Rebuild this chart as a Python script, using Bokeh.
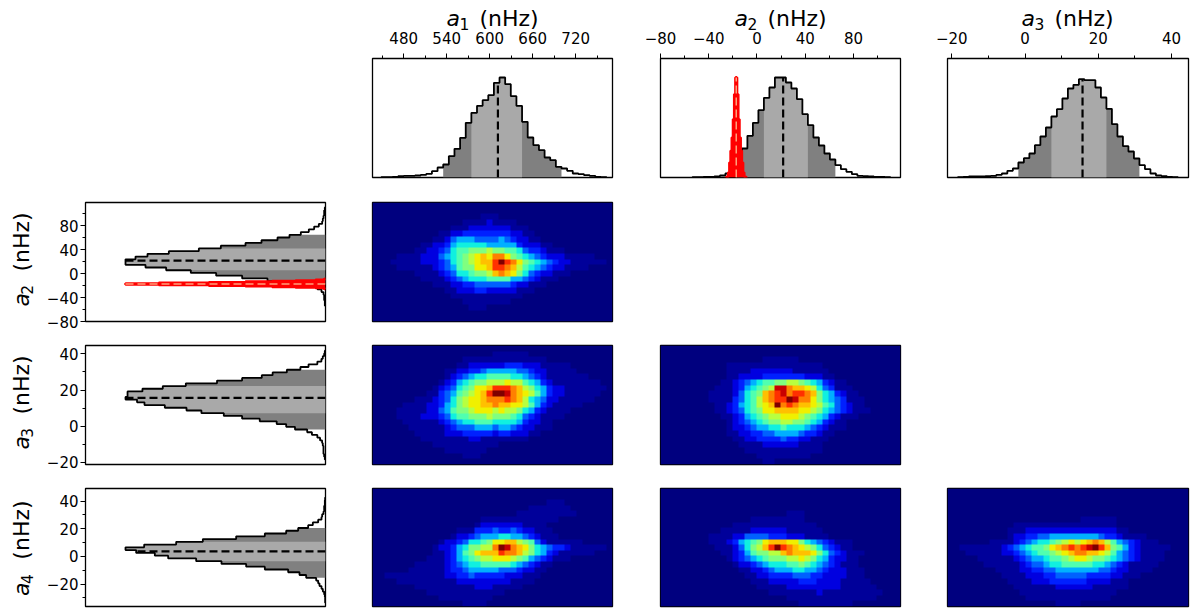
import numpy as np
from bokeh.core.properties import value
from bokeh.embed import file_html
from bokeh.resources import INLINE
from bokeh.layouts import column, row
from bokeh.models import (Spacer, Range1d, FixedTicker, LinearColorMapper)
from bokeh.plotting import figure

# ---------- ranges of the four parameters (nHz) ----------
a1_range = (436.5, 771.4)
a2_range = (-80.0, 119.0)
a3_range = (-21.18, 44.64)
a4_range = (-36.2, 49.1)

# ---------- tick labels ----------
a1_major = [480, 540, 600, 660, 720]
a1_minor = [450, 510, 570, 630, 690, 750]
a2_major = [-80, -40, 0, 40, 80]
a2_minor = [-60, -20, 20, 60, 100]
a3_major = [-20, 0, 20, 40]
a3_minor = [-10, 10, 30]
a4_major = [-20, 0, 20, 40]
a4_minor = [-30, -10, 10, 30]

# ---------- marginal histograms ----------
a1_start, a1_width = 448.7, 7.86
a1_counts = [1, 1, 2, 4, 5, 5, 6, 8, 11, 19, 30, 39, 64, 86, 119, 164, 194, 215, 232, 247,
             284, 300, 280, 244, 215, 167, 120, 97, 82, 60, 52, 32, 27, 20, 12, 10, 7, 5, 2, 1]
a1_quant = [535.0, 573.0, 643.5, 697.0]
a1_median = 611.5

a2_start, a2_width = -53.55, 4.56
a2_counts = [1, 1, 2, 2, 3, 6, 12, 22, 35, 87, 125, 164, 202, 239, 270, 300, 300, 285, 267, 235,
             190, 157, 120, 96, 72, 54, 37, 25, 17, 10, 5, 4, 3, 2, 2, 1]
a2_quant = [-17.0, 5.5, 43.0, 65.5]
a2_median = 21.7

a3_start, a3_width = -18.36, 1.503
a3_counts = [1, 2, 3, 3, 3, 4, 5, 8, 12, 20, 27, 45, 58, 72, 97, 123, 150, 183, 205, 237,
             267, 278, 295, 292, 292, 270, 240, 206, 160, 123, 94, 78, 57, 37, 25, 12, 6, 4, 2, 1]
a3_quant = [-1.9, 6.9, 22.4, 31.3]
a3_median = 15.7

a4_start, a4_width = -33.44, 2.0
a4_counts = [0.5, 0.5, 1, 2, 4, 6, 9, 11, 14, 29, 39, 56, 91, 119, 156, 194, 236, 256, 284,
             300, 272, 224, 184, 134, 91, 59, 41, 26, 19, 11, 6, 5, 3, 2, 2, 1, 1, 0.5]
a4_quant = [-15.1, -3.8, 10.8, 20.1]
a4_median = 3.6

# narrow comparison distribution of a2 (red)
red_start, red_width = -25.7, 1.0
red_counts = [1, 3, 15, 45, 80, 120, 175, 250, 300, 250, 175, 120, 80, 45, 15, 3, 1]
red_median = -17.2

# ---------- joint histograms (level 0-15 of each cell, top row first) ----------
h12 = [
"0000000000 0000000000 0000000000 0000000000",
"0000000000 0000000000 0000000000 0000000000",
"0000000000 0000000011 1000000000 0000000000",
"0000000000 0000011112 1111000000 0000000000",
"0000000000 0001112222 2221110000 0000000000",
"0000000000 0112233333 3332211000 0000000000",
"0000000000 1124555444 4543221100 0000000000",
"0000000011 2235666665 5555322211 0000000000",
"0000000112 2346778889 8877643321 1100000000",
"0000111122 2456789aba cca8765432 2211111000",
"0001111122 2346789abb dfdca87654 3221111110",
"0000111111 2345788aab ddcb976543 2211110000",
"0000000111 1234667889 bcba864322 1110000000",
"0000000011 1123456667 7775543211 1000000000",
"0000000000 1112233444 4443221110 0000000000",
"0000000000 0011222332 2222111000 0000000000",
"0000000000 0001111111 1111100000 0000000000",
"0000000000 0000011111 1110000000 0000000000",
"0000000000 0000001110 0000000000 0000000000",
"0000000000 0000000000 0000000000 0000000000",
"0000000000 0000000000 0000000000 0000000000",
]
h13 = [
"0000000000 0000000000 0000000000 0000000000",
"0000000000 0000000000 1111110000 0000000000",
"0000000000 0000011111 1111111110 0000000000",
"0000000000 0000112222 2233322211 1110000000",
"0000000000 0011223345 5555443221 1111000000",
"0000000000 0012345667 7776654321 1111110000",
"0000000000 0123567889 99a9976532 1111111100",
"0000000000 1234678aab dddcb98653 2211111110",
"0000000001 1345789abd ffecba9753 2211111100",
"0000000111 234689aabc ccdcb96542 2111111000",
"0000011112 235689aabb cbbaa97532 1111100000",
"0000111112 2457889aaa 9a99865321 1110000000",
"0000111122 2346778889 8887643211 1100000000",
"0000011111 1234566777 6666532211 0000000000",
"0000001111 1123444555 4554322111 0000000000",
"0000000111 1122233333 2332221100 0000000000",
"0000000011 1111112211 1111110000 0000000000",
"0000000000 1111111111 1000000000 0000000000",
"0000000000 0011111110 0000000000 0000000000",
"0000000000 0000011100 0000000000 0000000000",
"0000000000 0000000000 0000000000 0000000000",
]
h14 = [
"0000000000 0000000000 0000000000 0000000000",
"0000000000 0000000000 0000000000 0000000000",
"0000000000 0000000000 0000000001 1100000000",
"0000000000 0000000000 0000001111 1110000000",
"0000000000 0000000000 0000111111 1111000000",
"0000000000 0000000011 1111111111 1000000000",
"0000000000 0000000122 2222211110 0000000000",
"0000000000 0000111333 4334322111 0000000000",
"0000000000 0001223455 5665543211 1000000000",
"0000000000 0122346678 aabb987421 1111100000",
"0000000000 1223568899 cfecba8654 3321111110",
"0000000000 1123578abb bdccb98653 2111111000",
"0000000001 1123567899 aaa9875432 1110000000",
"0000000111 1123456677 7776543211 0000000000",
"0000001111 1123345555 5444322110 0000000000",
"0011111111 1122334333 3322211100 0000000000",
"0000111111 1111222222 2221111000 0000000000",
"0000000111 1111111222 1111100000 0000000000",
"0000000001 1111111111 1100000000 0000000000",
"0000000000 0111111111 0000000000 0000000000",
"0000000000 0000011110 0000000000 0000000000",
]
h23 = [
"0000000000 0000000000 0000000000 0000000000",
"0000000000 0000000000 0000000000 0000000000",
"0000000000 0000000111 1110000000 0000000000",
"0000000000 0111111111 1111111000 0000000000",
"0000000000 0111122222 2211111100 0000000000",
"0000000000 0112222333 3333222110 0000000000",
"0000000000 1123456778 8998765321 1000000000",
"0000000001 112356789e ecbba96431 1100000000",
"0000000011 1124678bcd ecddcb8653 2110000000",
"0000000011 1134679bcd dfecca8654 3111000000",
"0000000001 1235679abf cdcbba9764 3211000000",
"0000000001 1234678aab bbbaa98654 3211100000",
"0000000000 1123567899 aaa9876532 1110000000",
"0000000000 0123456788 9988765321 1000000000",
"0000000000 0122345566 7666543211 1000000000",
"0000000000 0112233445 5554332110 0000000000",
"0000000000 0011223333 4332211100 0000000000",
"0000000000 0001111222 2221111000 0000000000",
"0000000000 0000111111 1111111000 0000000000",
"0000000000 0000001111 1111100000 0000000000",
"0000000000 0000000110 0000000000 0000000000",
]
h24 = [
"0000000000 0000000000 0000000000 0000000000",
"0000000000 0000000000 0000000000 0000000000",
"0000000000 0000000000 0000000000 0000000000",
"0000000000 0000000000 0000000000 0000000000",
"0000000000 0000000000 0111000000 0000000000",
"0000000000 0000011111 1111000000 0000000000",
"0000000000 0011111111 1111110000 0000000000",
"0000000000 1111122222 2111111000 0000000000",
"0000000011 1122444433 3222111100 0000000000",
"0000000011 1235678abb baa8654321 1100000000",
"0000000001 1124689bdf dcba986432 1100000000",
"0000000000 1123578899 bcbbba8643 2111000000",
"0000000000 0123456788 899a986532 2110000000",
"0000000000 0012234566 6778765432 1110000000",
"0000000000 0001122345 5566554322 2111000000",
"0000000000 0000112233 3344433222 2111000000",
"0000000000 0000011122 2223332222 1111100000",
"0000000000 0000001111 1222222222 1111110000",
"0000000000 0000000011 1111112111 1111111000",
"0000000000 0000000000 0111111111 1111110000",
"0000000000 0000000000 0001111111 1100000000",
]
h34 = [
"0000000000 0000000000 0000000000 0000000000",
"0000000000 0000000000 0000000000 0000000000",
"0000000000 0000000000 0000000000 0000000000",
"0000000000 0000000000 0000000000 0000000000",
"0000000000 0000000000 0000000000 0000000000",
"0000000000 0000000000 0011111100 0000000000",
"0000000000 0111111111 1111111100 0000000000",
"0000000000 1112222222 2222222211 0000000000",
"0000000000 1223344555 5555543321 1110000000",
"0000000111 1234566789 a9abcb9754 3211100000",
"0011111112 3456778abc dcdefdb875 3211111000",
"0001111112 234567789a bccbba9754 3211110000",
"0000011111 1234556778 9aa9887654 3211110000",
"0000001111 1123445667 7777665432 1111100000",
"0000000011 1122334455 5555544322 1111000000",
"0000000001 1112223344 4443333221 1100000000",
"0000000000 1111222333 3332222111 0000000000",
"0000000000 0111111122 2222111111 0000000000",
"0000000000 0011111111 1111111100 0000000000",
"0000000000 0001111111 1111111000 0000000000",
"0000000000 0000000011 1100000000 0000000000",
]

jet = ["#00007f", "#00009a", "#0000e0", "#0020ff", "#0060ff", "#00b0ff", "#10f0e0", "#50ffb0",
       "#80ff80", "#b8ff40", "#f0f000", "#ffc000", "#ff8000", "#ff3000", "#c80000", "#7f0000"]

FONT = "DejaVu Sans"
DARK, LIGHT = "#808080", "#a9a9a9"

HEADER_H = 36   # strip holding the parameter names above the top row
OVERLAP = 11    # it may overlap the top row's border by this much
SIDE_W = 40     # strip holding the parameter names left of the first column

col_b = [(85 - SIDE_W, 23, 240), (24, 24, 240), (24, 24, 240), (23, 4, 241)]
row_b = [(58 - HEADER_H + OVERLAP, 13, 119), (12, 12, 119), (12, 12, 119), (12, 6, 118)]


def mk(c, r, xr, yr, **kw):
    l, ri, w = col_b[c]
    t, b, h = row_b[r]
    p = figure(width=l + ri + w, height=t + b + h, x_range=Range1d(*xr), y_range=Range1d(*yr),
               toolbar_location=None, output_backend="svg", tools="",
               min_border_left=l, min_border_right=ri, min_border_top=t, min_border_bottom=b, **kw)
    p.grid.visible = False
    p.outline_line_color = "black"
    p.outline_line_width = 1.3
    p.background_fill_color = "white"
    return p


def style_axis(ax, major, minor, standoff):
    ax.ticker = FixedTicker(ticks=major, minor_ticks=minor)
    ax.major_label_overrides = {v: str(v).replace("-", "\u2212") for v in major}
    ax.major_label_text_font = FONT
    ax.major_label_text_font_size = "15px"
    ax.major_label_text_color = "black"
    ax.major_tick_in = 0
    ax.major_tick_out = 5
    ax.minor_tick_in = 0
    ax.minor_tick_out = 3
    ax.major_tick_line_width = 1
    ax.minor_tick_line_width = 1
    ax.major_tick_line_color = "black"
    ax.minor_tick_line_color = "black"
    ax.axis_line_color = "black"
    ax.major_label_standoff = standoff


def edges_of(counts, start, width):
    return start + width * np.arange(len(counts) + 1)


def outline(counts, start, width):
    e = edges_of(counts, start, width)
    pos, val = [float(e[0])], [0]
    for i, c in enumerate(counts):
        pos += [float(e[i]), float(e[i + 1])]
        val += [c, c]
    pos.append(float(e[-1]))
    val.append(0)
    return pos, val


def band(counts, start, width, lo, hi):
    """step coordinates of the histogram part whose bin centres lie in [lo, hi]"""
    e = edges_of(counts, start, width)
    mid = (e[:-1] + e[1:]) / 2
    pos, val = [], []
    for i, c in enumerate(counts):
        if lo <= mid[i] <= hi:
            pos += [float(e[i]), float(e[i + 1])]
            val += [c, c]
    return pos, val


def area(p, pos, val, color, horiz):
    if horiz:
        p.harea(x1=[0] * len(val), x2=val, y=pos, fill_color=color)
    else:
        p.varea(x=pos, y1=[0] * len(val), y2=val, fill_color=color)


def hist(p, counts, start, width, quant, median, horiz=False):
    pos, val = band(counts, start, width, quant[0], quant[3])
    area(p, pos, val, DARK, horiz)
    pos, val = band(counts, start, width, quant[1], quant[2])
    area(p, pos, val, LIGHT, horiz)
    pos, val = outline(counts, start, width)
    med_h = counts[int((median - start) // width)]
    if horiz:
        p.line(val, pos, line_color="black", line_width=1.8)
        p.line([0, med_h], [median, median], line_color="black", line_width=2.2, line_dash="8 4")
    else:
        p.line(pos, val, line_color="black", line_width=1.8)
        p.line([median, median], [0, med_h], line_color="black", line_width=2.2, line_dash="8 4")


def red_hist(p, horiz=False):
    pos, val = outline(red_counts, red_start, red_width)
    peak = max(red_counts)
    area(p, pos, val, "red", horiz)
    if horiz:
        p.line(val, pos, line_color="red", line_width=3)
        p.line([0, peak], [red_median, red_median], line_color="#ffa07a", line_width=1.5, line_dash="8 4")
    else:
        p.line(pos, val, line_color="red", line_width=3)
        p.line([red_median, red_median], [0, peak], line_color="#ffa07a", line_width=1.5, line_dash="8 4")


def strip(w, h):
    """a text-only figure; x and y count pixels from its top-left corner"""
    p = figure(width=w, height=h, x_range=Range1d(0, w), y_range=Range1d(h, 0),
               toolbar_location=None, output_backend="svg", tools="",
               x_axis_location=None, y_axis_location=None, min_border=0)
    p.grid.visible = False
    p.outline_line_color = None
    return p


def txt(p, x, y, s, size, style="normal", angle=0.0):
    p.text(x=[x], y=[y], text=[s], angle=angle, text_font=value(FONT), text_font_size=value(f"{size}px"),
           text_font_style=style, text_color="black", text_align="left", text_baseline="alphabetic")


def side_strip(r, sub):
    t, b, h = row_b[r]
    p = strip(SIDE_W, t + b + h)
    q = np.pi / 2
    bottom = t + h
    txt(p, 21, bottom - 6, "a", 22, "italic", q)
    txt(p, 26, bottom - 20, sub, 15.5, "normal", q)
    txt(p, 21, bottom - 48, "(nHz)", 22, "normal", q)
    return p


def heat(c, r, rows, xr, yr):
    p = mk(c, r, xr, yr, x_axis_location=None, y_axis_location=None)
    z = np.array([[int(ch, 16) for ch in s.replace(" ", "")] for s in rows], dtype=float)[::-1]
    mapper = LinearColorMapper(palette=jet, low=0, high=15)
    p.image(image=[z], x=xr[0], y=yr[0], dw=xr[1] - xr[0], dh=yr[1] - yr[0], color_mapper=mapper)
    return p


def top_hist(c, xr, major, minor, counts, start, width, quant, median):
    p = mk(c, 0, xr, (0, 357), x_axis_location="above", y_axis_location=None)
    p.border_fill_color = None
    style_axis(p.xaxis[0], major, minor, 10)
    hist(p, counts, start, width, quant, median)
    return p


def left_hist(r, yr, xmax, major, minor, counts, start, width, quant, median):
    p = mk(0, r, (xmax, 0), yr, x_axis_location=None, y_axis_location="left")
    style_axis(p.yaxis[0], major, minor, 2)
    hist(p, counts, start, width, quant, median, horiz=True)
    return p


t1 = top_hist(1, a1_range, a1_major, a1_minor, a1_counts, a1_start, a1_width, a1_quant, a1_median)
t2 = top_hist(2, a2_range, a2_major, a2_minor, a2_counts, a2_start, a2_width, a2_quant, a2_median)
red_hist(t2)
t3 = top_hist(3, a3_range, a3_major, a3_minor, a3_counts, a3_start, a3_width, a3_quant, a3_median)

l2 = left_hist(1, a2_range, 360, a2_major, a2_minor, a2_counts, a2_start, a2_width, a2_quant, a2_median)
red_hist(l2, horiz=True)
l3 = left_hist(2, a3_range, 354, a3_major, a3_minor, a3_counts, a3_start, a3_width, a3_quant, a3_median)
l4 = left_hist(3, a4_range, 360, a4_major, a4_minor, a4_counts, a4_start, a4_width, a4_quant, a4_median)

header = strip(1192, HEADER_H)
for frame_left, sub in [(372, "1"), (660, "2"), (947, "3")]:
    txt(header, frame_left + 74, 18, "a", 22, "italic")
    txt(header, frame_left + 87, 23, sub, 15.5)
    txt(header, frame_left + 107, 18, "(nHz)", 22)

top_h = row_b[0][0] + row_b[0][1] + row_b[0][2]
r0 = row(Spacer(width=348, height=top_h), t1, t2, t3, margin=(-OVERLAP, 0, 0, 0))
r1 = row(side_strip(1, "2"), l2, heat(1, 1, h12, a1_range, a2_range), Spacer(width=288 + 268, height=143))
r2 = row(side_strip(2, "3"), l3, heat(1, 2, h13, a1_range, a3_range), heat(2, 2, h23, a2_range, a3_range), Spacer(width=268, height=143))
r3 = row(side_strip(3, "4"), l4, heat(1, 3, h14, a1_range, a4_range), heat(2, 3, h24, a2_range, a4_range), heat(3, 3, h34, a3_range, a4_range))
page = column(header, r0, r1, r2, r3)

open("out.html", "w").write(file_html(page, INLINE))
